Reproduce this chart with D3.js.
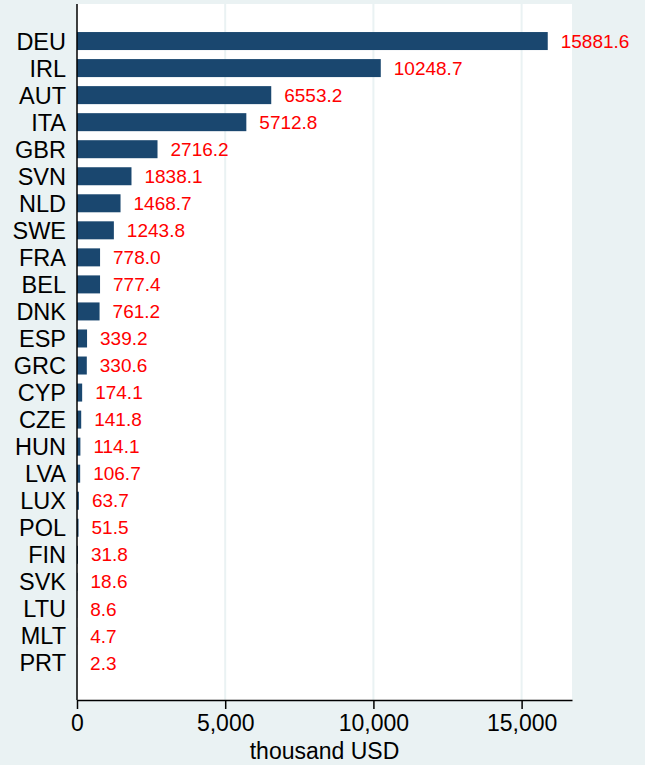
<!DOCTYPE html>
<html>
<head>
<meta charset="utf-8">
<script src="https://cdn.jsdelivr.net/npm/d3@7"></script>
<style>
  html, body { margin: 0; padding: 0; background: #EAF2F3; }
  svg { display: block; font-family: "Liberation Sans", Arial, Helvetica, sans-serif; }
</style>
</head>
<body>
<svg id="chart" width="645" height="765"></svg>
<script>
// --- data ---
const countries = ["DEU", "IRL", "AUT", "ITA", "GBR", "SVN", "NLD", "SWE", "FRA", "BEL", "DNK", "ESP",
                   "GRC", "CYP", "CZE", "HUN", "LVA", "LUX", "POL", "FIN", "SVK", "LTU", "MLT", "PRT"];
const values = [15881.6, 10248.7, 6553.2, 5712.8, 2716.2, 1838.1, 1468.7, 1243.8, 778.0, 777.4, 761.2, 339.2,
                330.6, 174.1, 141.8, 114.1, 106.7, 63.7, 51.5, 31.8, 18.6, 8.6, 4.7, 2.3];
const xTicks = [0, 5000, 10000, 15000];
const xTitle = "thousand USD";

const rows = countries.map((c, i) => ({ c, v: values[i] }));

const W = 645, H = 765;
const plot = { left: 77, right: 572, top: 4, bottom: 700 };

const svg = d3.select("#chart");

// background
svg.append("rect").attr("width", W).attr("height", H).attr("fill", "#EAF2F3");
svg.append("rect")
    .attr("x", plot.left).attr("y", plot.top)
    .attr("width", plot.right - plot.left).attr("height", plot.bottom - plot.top)
    .attr("fill", "#fff");

const x = d3.scaleLinear().domain([0, 16700]).range([plot.left, plot.right]);
const y = d3.scalePoint().domain(countries).range([plot.top, plot.bottom]).padding(1.37);
const barH = 18;

// grid lines
svg.append("g").selectAll("line").data(xTicks.filter(d => d > 0)).join("line")
    .attr("x1", d => x(d)).attr("x2", d => x(d))
    .attr("y1", plot.top).attr("y2", plot.bottom)
    .attr("stroke", "#EAF2F3").attr("stroke-width", 2);

// bars
svg.append("g").selectAll("rect").data(rows).join("rect")
    .attr("x", x(0))
    .attr("y", d => y(d.c) - barH / 2)
    .attr("width", d => x(d.v) - x(0))
    .attr("height", barH)
    .attr("fill", "#1A476F");

// value labels
svg.append("g").selectAll("text").data(rows).join("text")
    .attr("x", d => x(d.v) + 13)
    .attr("y", d => y(d.c))
    .attr("dy", "0.35em")
    .attr("fill", "#FF0000")
    .attr("font-size", 19)
    .text(d => d.v.toFixed(1));

// category labels
svg.append("g").selectAll("text").data(rows).join("text")
    .attr("x", plot.left - 11)
    .attr("y", d => y(d.c))
    .attr("dy", "0.36em")
    .attr("text-anchor", "end")
    .attr("fill", "#000")
    .attr("font-size", 23.5)
    .text(d => d.c);

// left axis line
svg.append("line")
    .attr("x1", plot.left).attr("x2", plot.left)
    .attr("y1", plot.top).attr("y2", plot.bottom)
    .attr("stroke", "#000").attr("stroke-width", 1.5);

// bottom axis
const xAxis = d3.axisBottom(x).tickValues(xTicks).tickFormat(d3.format(","))
    .tickSize(9).tickSizeOuter(0).tickPadding(6);
const gx = svg.append("g").attr("transform", `translate(0,${plot.bottom})`).call(xAxis);
gx.select(".domain").attr("stroke", "#000").attr("stroke-width", 1.5);
gx.selectAll(".tick line").attr("stroke", "#000").attr("stroke-width", 1.5);
gx.selectAll(".tick text").attr("font-size", 23).attr("fill", "#000")
    .attr("font-family", "Liberation Sans, Arial, sans-serif");

svg.append("text")
    .attr("x", (plot.left + plot.right) / 2)
    .attr("y", 751)
    .attr("dy", "0.35em")
    .attr("text-anchor", "middle")
    .attr("font-size", 23)
    .attr("fill", "#000")
    .text(xTitle);
</script>
</body>
</html>
